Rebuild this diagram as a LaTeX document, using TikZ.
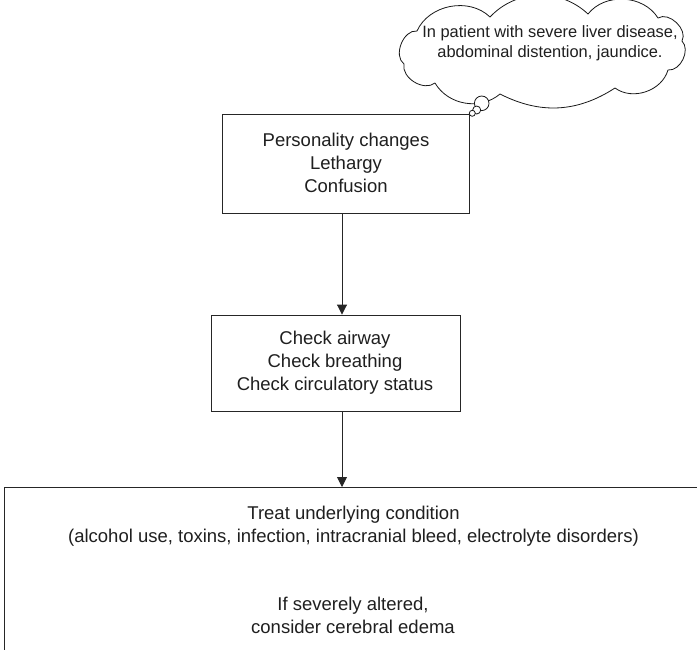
\documentclass[tikz,border=0pt]{standalone}
\usepackage{fontspec}
\setmainfont{Liberation Sans}
\usetikzlibrary{arrows.meta}

\tikzset{
  stepbox/.style={draw=black!85, line width=0.9pt, fill=white, rectangle, inner sep=0pt},
  boxtext/.style={align=center, font=\fontsize{18.5}{23}\selectfont, text=black!88, inner sep=0pt},
  flow/.style={draw=black!85, line width=0.9pt, -{Triangle[length=10pt,width=10pt]}},
  thought/.style={draw=black!90, line width=0.8pt, fill=white, line join=round},
  bubble/.style={circle, draw=black!90, line width=0.8pt, fill=white, inner sep=0pt},
}

\begin{document}
\begin{tikzpicture}[x=1pt, y=-1pt]
  \clip (0,0) rectangle (697,649);
  \fill[white] (0,0) rectangle (697,649);

  % first step
  \node[stepbox, minimum width=247pt, minimum height=99pt] (b1) at (345.5,163.5) {};
  \node[boxtext] (t1) at (346,163) {Personality changes\\Lethargy\\Confusion};

  % second step
  \node[stepbox, minimum width=249pt, minimum height=96pt] (b2) at (335.5,363) {};
  \node[boxtext] (t2) at (335,363) {Check airway\\Check breathing\\Check circulatory status};

  % final step (runs off the page)
  \node[stepbox, minimum width=760pt, minimum height=200pt, anchor=north west] (b3) at (4,487) {};
  \node[boxtext] (t3a) at (353.5,526) {Treat underlying condition\\(alcohol use, toxins, infection, intracranial bleed, electrolyte disorders)};
  \node[boxtext] (t3b) at (353,615.5) {If severely altered,\\consider cerebral edema};

  % connectors
  \coordinate (ax) at (342,0);
  \draw[flow] (b1.south -| ax) -- (b2.north -| ax);
  \draw[flow] (b2.south -| ax) -- (b3.north -| ax);

  % thought cloud: puffs between cusp points, clockwise from the upper left
  \coordinate (k1) at (417,31);
  \coordinate (k2) at (490,17);
  \coordinate (k3) at (588,14);
  \coordinate (k4) at (658,18);
  \coordinate (k5) at (682,41);
  \coordinate (k6) at (668,70);
  \coordinate (k7) at (615,88);
  \coordinate (k8) at (500,94);
  \coordinate (k9) at (435,83);
  \coordinate (k10) at (404,64);
  \draw[thought] (k1) to[bend left=55] (k2) to[bend left=45] (k3) to[bend left=55] (k4)
    to[bend left=75] (k5) to[bend left=70] (k6) to[bend left=55] (k7)
    to[bend left=30] (k8) to[bend left=50] (k9) to[bend left=70] (k10)
    to[bend left=75] cycle;
  \node[align=center, font=\fontsize{16.4}{20}\selectfont, text=black!88, inner sep=0pt] (ct) at (550,43)
    {In patient with severe liver disease,\\abdominal distention, jaundice.};
  \node[bubble, minimum size=14.6pt] (p1) at (481.7,103.3) {};
  \node[bubble, minimum size=8pt] (p2) at (476.7,110) {};
  \node[bubble, minimum size=6pt] (p3) at (472.3,113.3) {};
\end{tikzpicture}
\end{document}
